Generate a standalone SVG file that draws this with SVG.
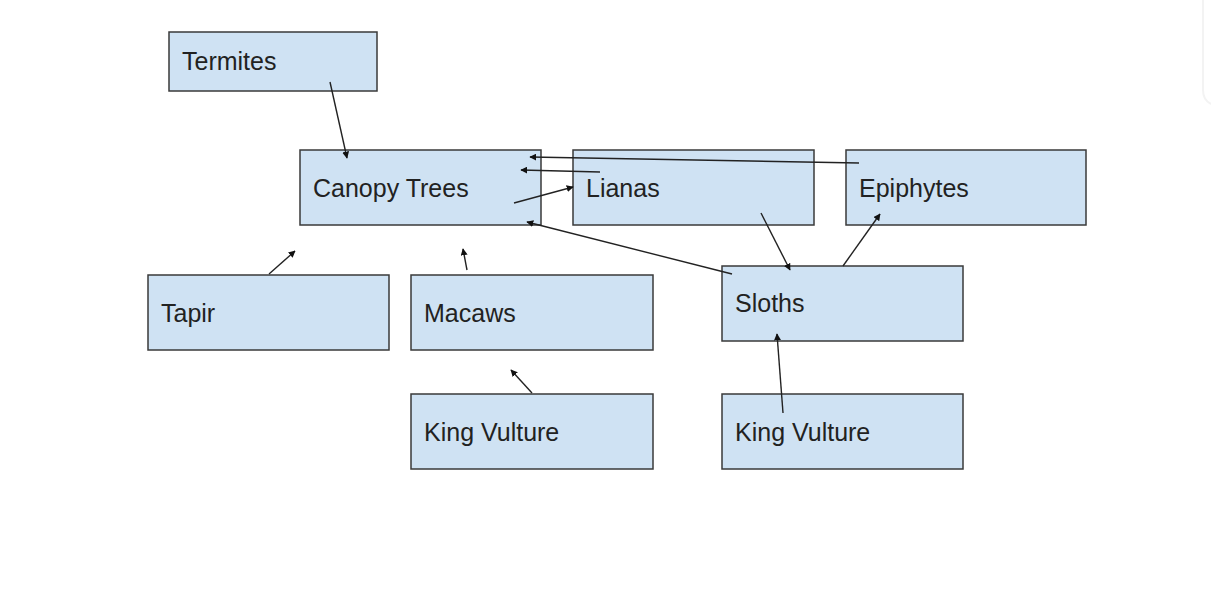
<svg xmlns="http://www.w3.org/2000/svg" width="1211" height="595" viewBox="0 0 1211 595">
<style>
.box{fill:#cfe2f3;stroke:#3a3a3a;stroke-width:1.5}
.lbl{font-family:"Liberation Sans",Arial,sans-serif;font-size:25px;fill:#222}
.edge{stroke:#222;stroke-width:1.4;fill:none;marker-end:url(#ah)}
</style>
<defs>
<marker id="ah" viewBox="0 0 10 10" refX="9" refY="5" markerWidth="7" markerHeight="7" markerUnits="userSpaceOnUse" orient="auto">
<path d="M0,0 L10,5 L0,10 z" fill="#111"/>
</marker>
</defs>
<rect width="1211" height="595" fill="#fff"/>
<path d="M1203,0 V90 Q1203,100 1211,104" fill="none" stroke="#f3f3f3" stroke-width="2"/>
<g id="termites"><rect class="box" x="169" y="32" width="208" height="59"/><text class="lbl" x="182" y="70">Termites</text></g>
<g id="canopy"><rect class="box" x="300" y="150" width="241" height="75"/><text class="lbl" x="313" y="197">Canopy Trees</text></g>
<g id="lianas"><rect class="box" x="573" y="150" width="241" height="75"/><text class="lbl" x="586" y="197">Lianas</text></g>
<g id="epiphytes"><rect class="box" x="846" y="150" width="240" height="75"/><text class="lbl" x="859" y="197">Epiphytes</text></g>
<g id="tapir"><rect class="box" x="148" y="275" width="241" height="75"/><text class="lbl" x="161" y="322">Tapir</text></g>
<g id="macaws"><rect class="box" x="411" y="275" width="242" height="75"/><text class="lbl" x="424" y="322">Macaws</text></g>
<g id="sloths"><rect class="box" x="722" y="266" width="241" height="75"/><text class="lbl" x="735" y="312">Sloths</text></g>
<g id="kingvulture1"><rect class="box" x="411" y="394" width="242" height="75"/><text class="lbl" x="424" y="441">King Vulture</text></g>
<g id="kingvulture2"><rect class="box" x="722" y="394" width="241" height="75"/><text class="lbl" x="735" y="441">King Vulture</text></g>
<g id="connectors">
<line class="edge" x1="330" y1="82" x2="347" y2="158"/>
<line class="edge" x1="600" y1="172" x2="521" y2="170"/>
<line class="edge" x1="859" y1="163" x2="530" y2="157"/>
<line class="edge" x1="514" y1="203" x2="573" y2="187"/>
<line class="edge" x1="732" y1="274" x2="527" y2="222"/>
<line class="edge" x1="761" y1="213" x2="790" y2="270"/>
<line class="edge" x1="843" y1="266" x2="880" y2="214"/>
<line class="edge" x1="269" y1="274" x2="295" y2="251"/>
<line class="edge" x1="467" y1="270" x2="463" y2="249"/>
<line class="edge" x1="532" y1="393" x2="511" y2="370"/>
<line class="edge" x1="783" y1="413" x2="777" y2="334"/>
</g>
</svg>
